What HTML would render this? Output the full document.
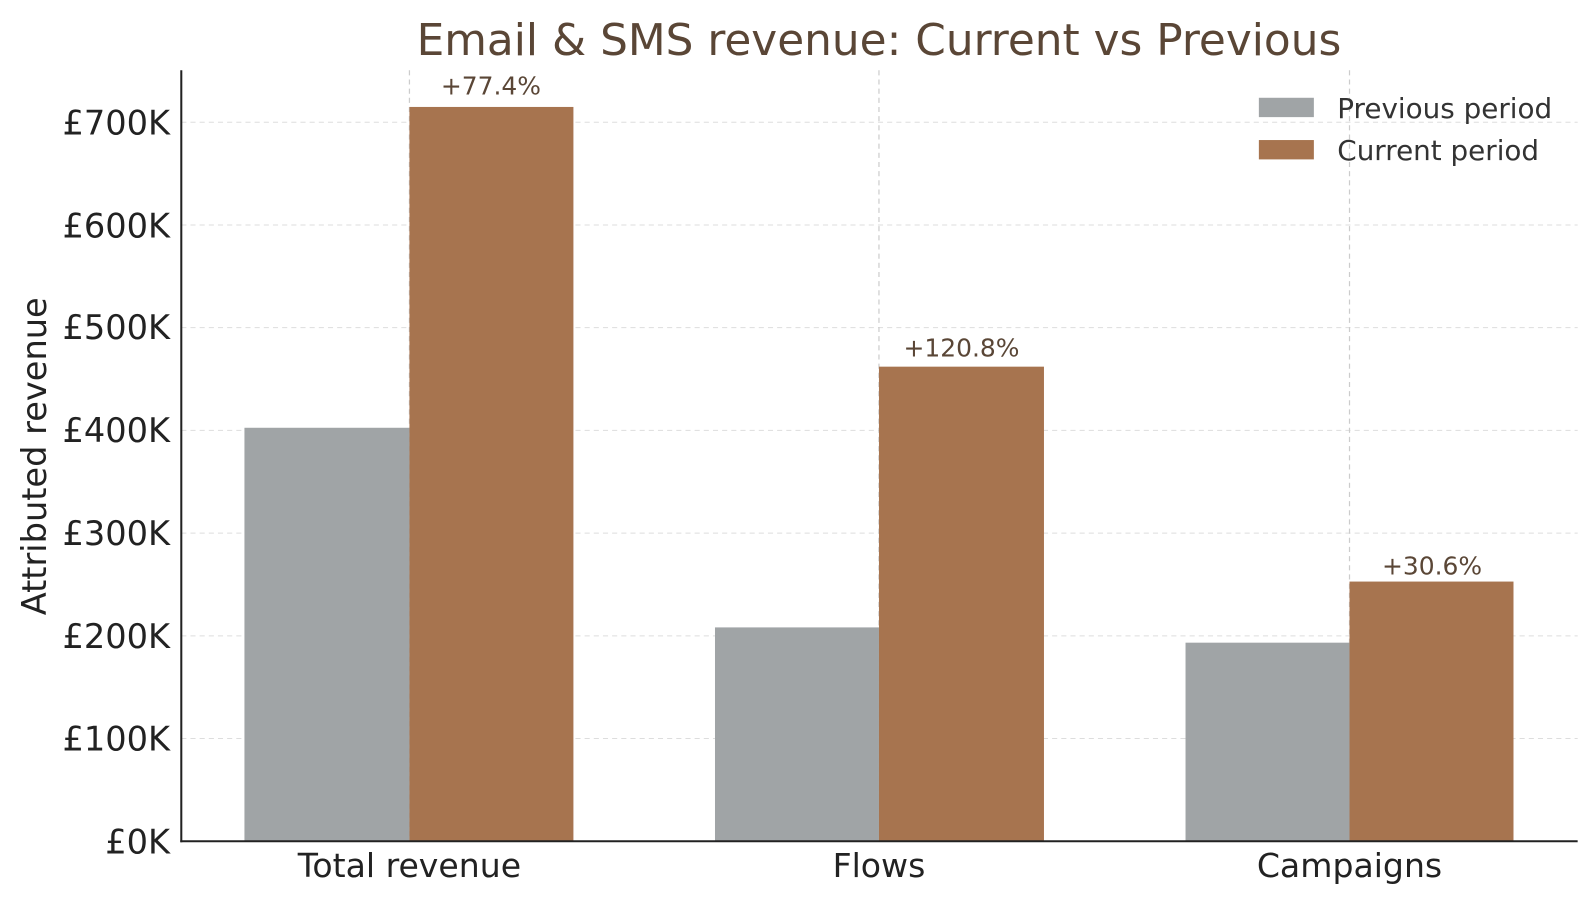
<!DOCTYPE html>
<html><head><meta charset="utf-8"><style>
html,body{margin:0;padding:0;background:#fff;}
svg{display:block;font-family:"DejaVu Sans","Liberation Sans",sans-serif;}
</style></head><body>
<svg width="1595" height="903" viewBox="0 0 1595 903" xmlns="http://www.w3.org/2000/svg">
<rect width="1595" height="903" fill="#fff"/>
<g transform="scale(1.0185)">
<g stroke="#dddddd" stroke-width="1" stroke-dasharray="5,4">
<line x1="178" x2="1549" y1="725.1" y2="725.1"/>
<line x1="178" x2="1549" y1="624.3" y2="624.3"/>
<line x1="178" x2="1549" y1="523.4" y2="523.4"/>
<line x1="178" x2="1549" y1="422.6" y2="422.6"/>
<line x1="178" x2="1549" y1="321.7" y2="321.7"/>
<line x1="178" x2="1549" y1="220.9" y2="220.9"/>
<line x1="178" x2="1549" y1="120" y2="120"/>
</g>
<g stroke="#cccccc" stroke-width="1.2" stroke-dasharray="5,4">
<line x1="402" x2="402" y1="69" y2="826"/>
<line x1="863" x2="863" y1="69" y2="826"/>
<line x1="1325" x2="1325" y1="69" y2="826"/>
</g>
<g fill="#a0a4a6">
<rect x="240" y="420" width="162" height="406"/>
<rect x="702" y="616" width="161" height="210"/>
<rect x="1164" y="631" width="161" height="195"/>
</g>
<g fill="#a7744f">
<rect x="402" y="105" width="161" height="721"/>
<rect x="863" y="360" width="162" height="466"/>
<rect x="1325" y="571" width="161" height="255"/>
</g>
<g fill="#5a4636" font-size="24.5" text-anchor="middle">
<text x="482" y="93">+77.4%</text>
<text x="944" y="350">+120.8%</text>
<text x="1406" y="564">+30.6%</text>
</g>
<line x1="178" x2="178" y1="69" y2="827" stroke="#222" stroke-width="2"/>
<line x1="177" x2="1549" y1="826" y2="826" stroke="#222" stroke-width="2"/>
<g fill="#222" font-size="33" text-anchor="end">
<text x="167" y="838">£0K</text>
<text x="167" y="737">£100K</text>
<text x="167" y="636">£200K</text>
<text x="167" y="535">£300K</text>
<text x="167" y="434">£400K</text>
<text x="167" y="333">£500K</text>
<text x="167" y="233">£600K</text>
<text x="167" y="132">£700K</text>
</g>
<g fill="#222" font-size="32.5" text-anchor="middle">
<text x="402" y="861">Total revenue</text>
<text x="863" y="861">Flows</text>
<text x="1325" y="861">Campaigns</text>
</g>
<text transform="translate(45,448) rotate(-90)" fill="#222" font-size="33" text-anchor="middle">Attributed revenue</text>
<text x="863" y="54" fill="#5a4636" font-size="43" text-anchor="middle">Email &amp; SMS revenue: Current vs Previous</text>
<rect x="1236" y="96" width="54" height="19" fill="#a0a4a6"/>
<rect x="1236" y="137.5" width="54" height="19" fill="#a7744f"/>
<g fill="#333" font-size="27.3">
<text x="1313" y="116">Previous period</text>
<text x="1313" y="157">Current period</text>
</g>
</g>
</svg>
</body></html>
